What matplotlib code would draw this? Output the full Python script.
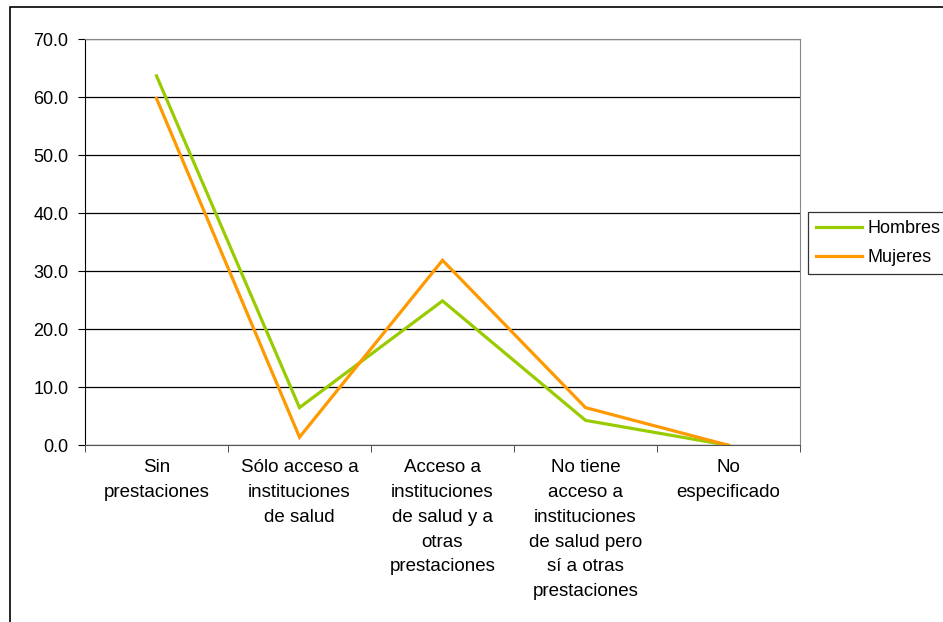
import matplotlib.pyplot as plt
from matplotlib.patches import Rectangle

plt.rcParams['font.family'] = ['Liberation Sans', 'DejaVu Sans']

categorias = ['Sin\nprestaciones',
              'Sólo acceso a\ninstituciones\nde salud',
              'Acceso a\ninstituciones\nde salud y a\notras\nprestaciones',
              'No tiene\nacceso a\ninstituciones\nde salud pero\nsí a otras\nprestaciones',
              'No\nespecificado']
hombres = [63.7, 6.5, 24.9, 4.3, 0.0]
mujeres = [59.8, 1.4, 31.9, 6.5, 0.0]
y_ticks = [0, 10, 20, 30, 40, 50, 60, 70]

fig = plt.figure(figsize=(9.43, 6.22), dpi=100)
ax = fig.add_axes([85 / 943, 1 - 445.3 / 622, 715 / 943, 406 / 622])

x = list(range(len(categorias)))
ax.plot(x, hombres, color='#99CC00', lw=2.3, label='Hombres', solid_joinstyle='miter')
ax.plot(x, mujeres, color='#FF9900', lw=2.3, label='Mujeres', solid_joinstyle='miter')

ax.set_xlim(-0.5, len(categorias) - 0.5)
ax.set_ylim(0, 70)
ax.set_yticks(y_ticks)
ax.set_yticklabels([f'{v:.1f}' for v in y_ticks], fontsize=13)
ax.set_xticks(x)
ax.set_xticklabels(categorias, fontsize=13.5, linespacing=1.6, va='top')
ax.set_xticks([i - 0.5 for i in range(len(categorias) + 1)], minor=True)
ax.tick_params(axis='x', which='major', length=0, pad=10)
ax.tick_params(axis='x', which='minor', length=5, color='#333333')
ax.tick_params(axis='y', length=5, pad=7)

ax.grid(axis='y', color='black', lw=0.9)
ax.set_axisbelow(True)
for s in ['top', 'right']:
    ax.spines[s].set_color('#888888')
ax.spines['bottom'].set_color('#555555')
ax.spines['left'].set_color('black')

# legend
leg = fig.legend(loc='upper left', bbox_to_anchor=(808 / 943, 1 - 212 / 622),
                 fontsize=13, frameon=True, fancybox=False, edgecolor='black',
                 handlelength=2.55, handletextpad=0.3, borderpad=0.45, labelspacing=0.65,
                 borderaxespad=0)
leg.get_frame().set_linewidth(0.9)

# outer frame of chart area
fig.patches.append(Rectangle((10 / 943, -0.1), 1.2, 1.1 - 7 / 622, transform=fig.transFigure,
                             fill=False, edgecolor='black', lw=1.2))

fig.savefig('out.png', dpi=100)
